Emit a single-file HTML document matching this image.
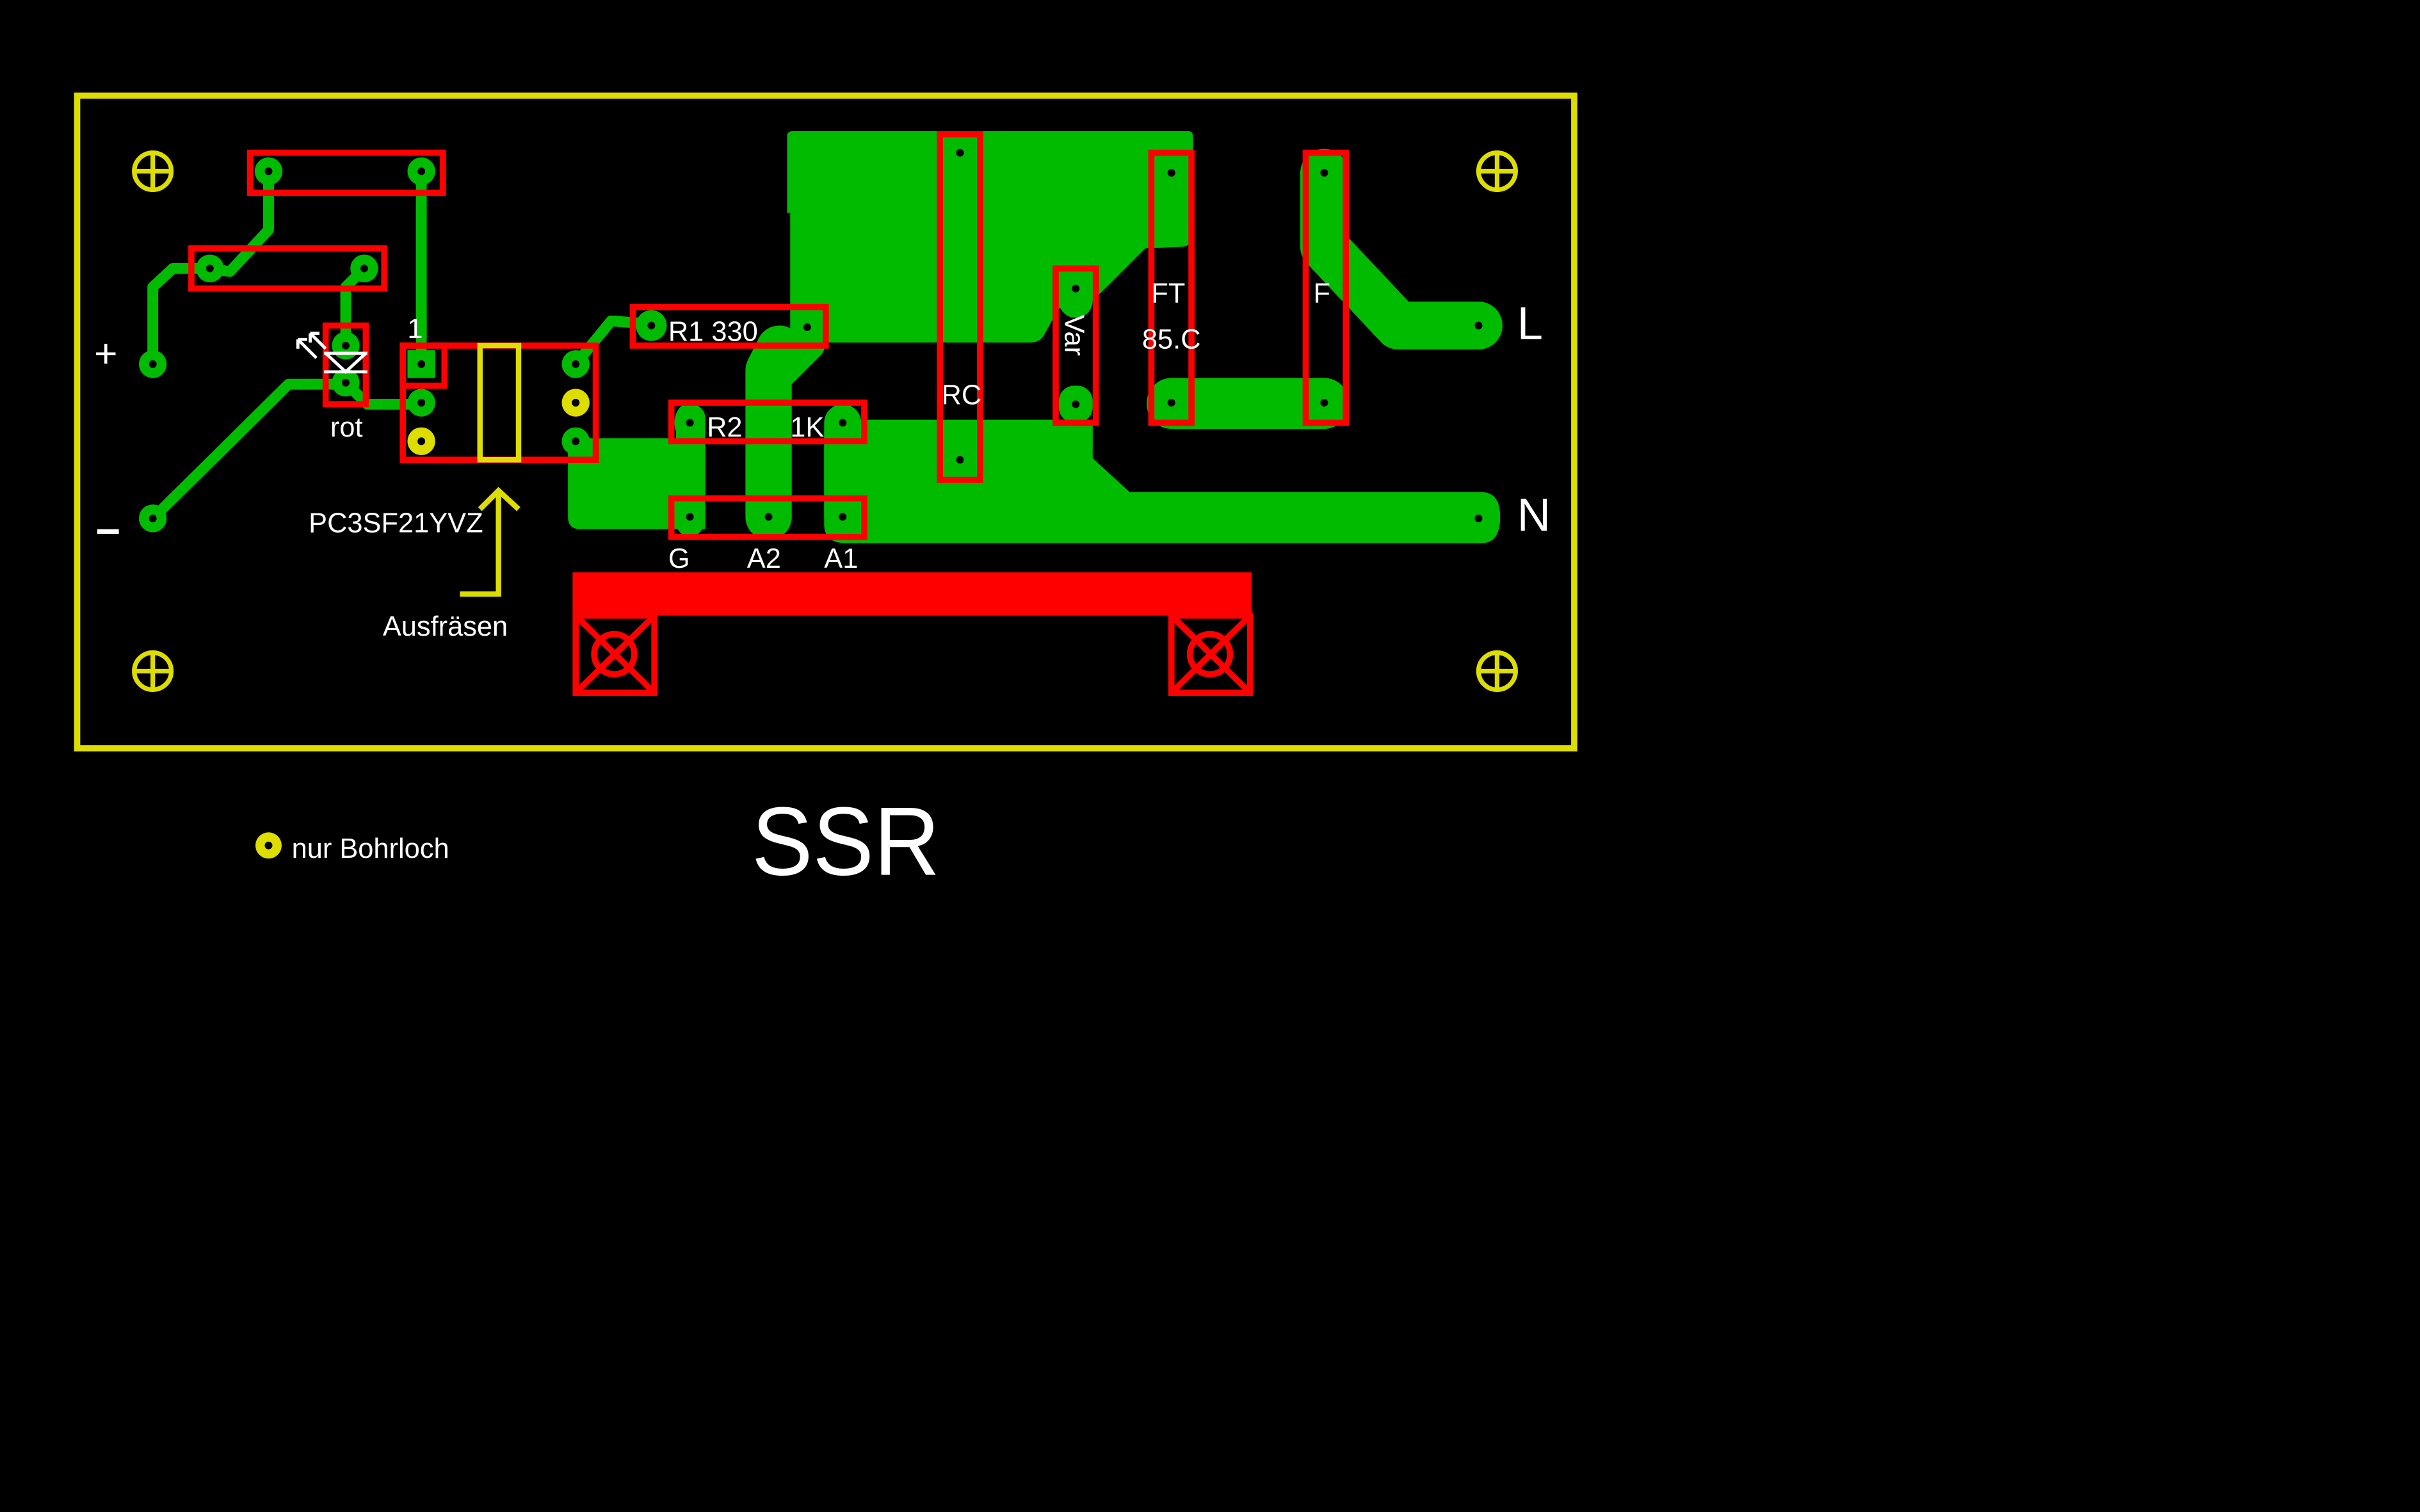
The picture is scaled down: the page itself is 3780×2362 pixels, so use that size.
<!DOCTYPE html>
<html><head><meta charset="utf-8"><style>
html,body{margin:0;padding:0;background:#000;width:3780px;height:2362px;overflow:hidden}
svg{display:block}
text{font-family:"Liberation Sans",sans-serif;fill:#fff}
</style></head><body>
<svg width="3780" height="2362" viewBox="0 0 1568 980" preserveAspectRatio="none" xmlns="http://www.w3.org/2000/svg">
<rect width="1568" height="980" fill="#000"/>
<!-- copper -->
<g fill="#00bb00" stroke="none">
<path d="M510,88 Q510,85 514,85 L770,85 Q773,85 773,89 L773,152 Q773,160 765,160 L742,161 L708,195 L686,200 L676,218 Q673,222 668,222 L512,222 L512,138 L510,138 Z"/>
<path d="M372,284 L457,284 L457,343 L376,343 Q368,343 368,335 L368,292 Q368,284 372,284 Z"/>
<rect x="438" y="262" width="19" height="80" rx="9"/>
<path d="M536,272 L708,272 L708,297 L732,319 L960,319 Q972,319 972,335 Q972,352 960,352 L548,352 Q534,352 534,340 L534,280 Z"/>
<rect x="686" y="250" width="22" height="24" rx="10"/>
<rect x="743" y="245" width="131" height="33" rx="16"/>
</g>
<g fill="none" stroke="#00bb00" stroke-linecap="round" stroke-linejoin="round">
<path d="M505,226 L498,240 L498,335" stroke-width="30"/>
<path d="M523,222 L505,240" stroke-width="24"/>
<path d="M546,274 L546,335" stroke-width="24"/>
<path d="M858,112 L858,160 L906,211 L958,211" stroke-width="31"/>
<path d="M697,187 L697,195" stroke-width="22"/>
<g stroke-width="7">
<path d="M174,111 L174,149 L149,176 L136,174"/>
<path d="M99,236 L99,186 L112,174 L136,174"/>
<path d="M236,174 L224,186 L224,224"/>
<path d="M273,111 L273,236"/>
<path d="M99,336 L187,249 L224,249"/>
<path d="M228,252 L238,262 L273,262"/>
<path d="M373,236 L396,208 L422,210"/>
</g>
</g>
<!-- small pads -->
<g fill="#00bb00">
<circle cx="174" cy="111" r="9"/><circle cx="273" cy="111" r="9"/>
<circle cx="136" cy="174" r="9"/><circle cx="236" cy="174" r="9"/>
<circle cx="99" cy="236" r="9"/><circle cx="99" cy="336" r="9"/>
<circle cx="224" cy="224" r="9"/><circle cx="224" cy="248" r="9"/>
<rect x="264" y="227" width="18" height="18"/>
<circle cx="273" cy="261" r="9"/>
<circle cx="373" cy="236" r="9"/><circle cx="373" cy="286" r="9"/>
<circle cx="422" cy="211" r="10"/>
<ellipse cx="447" cy="274" rx="10" ry="13"/><ellipse cx="546" cy="274" rx="10" ry="13"/>
<ellipse cx="447" cy="335" rx="10" ry="13"/><ellipse cx="498" cy="335" rx="10" ry="13"/><ellipse cx="546" cy="335" rx="10" ry="13"/>
<ellipse cx="697" cy="187" rx="10" ry="14"/>
<ellipse cx="858" cy="112" rx="14" ry="14"/>
</g>
<g fill="#dddd00"><circle cx="273" cy="286" r="9"/><circle cx="373" cy="261" r="9"/><circle cx="174" cy="548" r="8.5"/></g>
<g fill="#000">
<circle cx="174" cy="111" r="2.5"/><circle cx="273" cy="111" r="2.5"/><circle cx="136" cy="174" r="2.5"/><circle cx="236" cy="174" r="2.5"/>
<circle cx="99" cy="236" r="2.5"/><circle cx="99" cy="336" r="2.5"/><circle cx="224" cy="224" r="2.5"/><circle cx="224" cy="248" r="2.5"/>
<circle cx="273" cy="236" r="2.5"/><circle cx="273" cy="261" r="2.5"/><circle cx="273" cy="286" r="2.5"/>
<circle cx="373" cy="236" r="2.5"/><circle cx="373" cy="261" r="2.5"/><circle cx="373" cy="286" r="2.5"/>
<circle cx="422" cy="211" r="2.5"/><circle cx="523" cy="212" r="2.5"/>
<circle cx="447" cy="274" r="2.5"/><circle cx="546" cy="274" r="2.5"/>
<circle cx="447" cy="335" r="2.5"/><circle cx="498" cy="335" r="2.5"/><circle cx="546" cy="335" r="2.5"/>
<circle cx="622" cy="99" r="2.5"/><circle cx="622" cy="298" r="2.5"/>
<circle cx="697" cy="187" r="2.5"/><circle cx="697" cy="262" r="2.5"/>
<circle cx="759" cy="112" r="2.5"/><circle cx="759" cy="261" r="2.5"/>
<circle cx="858" cy="112" r="2.5"/><circle cx="858" cy="261" r="2.5"/>
<circle cx="958" cy="211" r="2.5"/><circle cx="958" cy="336" r="2.5"/>
<circle cx="174" cy="548" r="2.5"/>
</g>
<!-- red silkscreen -->
<g fill="none" stroke="#ff0000" stroke-width="4">
<rect x="162" y="99" width="125" height="26"/>
<rect x="124" y="161" width="125" height="26"/>
<rect x="211" y="211" width="26" height="51"/>
<rect x="261" y="224" width="125" height="74"/>
<rect x="261" y="224" width="27" height="26"/>
<rect x="410" y="199" width="125" height="25"/>
<rect x="435" y="261" width="125" height="25"/>
<rect x="435" y="323" width="125" height="25"/>
<rect x="609" y="87" width="26" height="224"/>
<rect x="684" y="174" width="26" height="100"/>
<rect x="746" y="99" width="26" height="175"/>
<rect x="846" y="99" width="26" height="175"/>
<rect x="373" y="399" width="51" height="50"/>
<rect x="759" y="399" width="51" height="50"/>
<circle cx="398" cy="424" r="13"/><path d="M373,399 L424,449 M424,399 L373,449"/>
<circle cx="784" cy="424" r="13"/><path d="M759,399 L810,449 M810,399 L759,449"/>
</g>
<rect x="371" y="371" width="440" height="28" fill="#ff0000"/>
<!-- board outline & holes -->
<g fill="none" stroke="#dddd00" stroke-width="4">
<rect x="50" y="62" width="970" height="423"/>
<rect x="311" y="224" width="25" height="74" stroke-width="3.5"/>
<path d="M298,385 L323,385 L323,318 M311,330 L323,318 L336,330" stroke-width="3.5"/>
</g>
<g fill="none" stroke="#dddd00" stroke-width="3">
<circle cx="99" cy="111" r="12"/><path d="M87,111 H111 M99,99 V123"/>
<circle cx="970" cy="111" r="12"/><path d="M958,111 H982 M970,99 V123"/>
<circle cx="99" cy="435" r="12"/><path d="M87,435 H111 M99,423 V447"/>
<circle cx="970" cy="435" r="12"/><path d="M958,435 H982 M970,423 V447"/>
</g>
<!-- LED symbol -->
<g fill="none" stroke="#fff" stroke-width="2">
<path d="M210,229 H238 M210,241 H238 M211,229 L224,241 L237,229"/>
<path d="M205,232 L193,220 M193,220 V226 M193,220 H199 M211,226 L201,216 M201,216 V222 M201,216 H207"/>
</g>
<!-- labels -->
<g font-size="18">
<text x="433" y="221">R1  330</text>
<text x="458" y="283">R2</text>
<text x="512" y="283">1K</text>
<text x="610" y="262">RC</text>
<text x="746" y="196">FT</text>
<text x="740" y="226">85.C</text>
<text x="851" y="196">F</text>
<text x="264" y="219">1</text>
<text x="214" y="283">rot</text>
<text x="200" y="345">PC3SF21YVZ</text>
<text x="433" y="368">G</text>
<text x="484" y="368">A2</text>
<text x="534" y="368">A1</text>
<text x="248" y="412">Ausfräsen</text>
<text x="189" y="556">nur Bohrloch</text>
<text x="0" y="0" transform="translate(690 204) rotate(90)">Var</text>
</g>
<text x="983" y="220" font-size="30">L</text>
<text x="983" y="344" font-size="30">N</text>
<text x="61" y="238" font-size="26">+</text>
<rect x="63" y="343" width="14" height="3" fill="#fff"/>
<text x="487" y="567" font-size="63" textLength="122" lengthAdjust="spacingAndGlyphs">SSR</text>
</svg>
</body></html>
